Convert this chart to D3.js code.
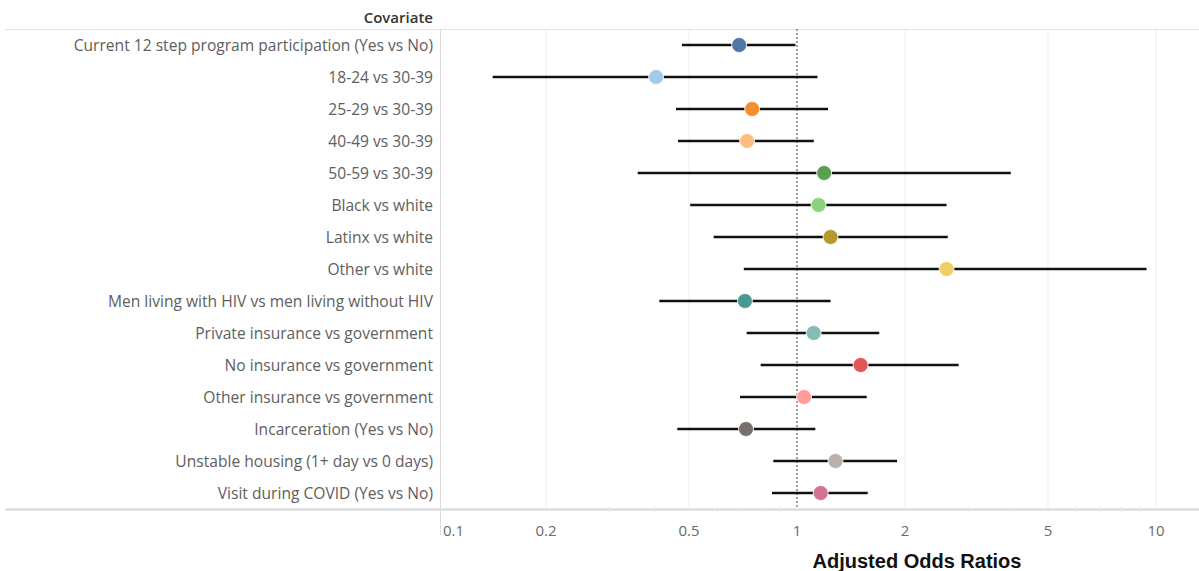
<!DOCTYPE html>
<html>
<head>
<meta charset="utf-8">
<script src="https://cdn.jsdelivr.net/npm/d3@7"></script>
<style>
  body { margin: 0; background: #fff; }
  svg { display: block; }
</style>
</head>
<body>
<div id="chart"></div>
<script>
// data
const covariates = [
  "Current 12 step program participation (Yes vs No)",
  "18-24 vs 30-39",
  "25-29 vs 30-39",
  "40-49 vs 30-39",
  "50-59 vs 30-39",
  "Black vs white",
  "Latinx vs white",
  "Other vs white",
  "Men living with HIV vs men living without HIV",
  "Private insurance vs government",
  "No insurance vs government",
  "Other insurance vs government",
  "Incarceration (Yes vs No)",
  "Unstable housing (1+ day vs 0 days)",
  "Visit during COVID (Yes vs No)"
];
const oddsRatio = [0.69, 0.405, 0.75, 0.726, 1.19, 1.148, 1.24, 2.61, 0.716, 1.113, 1.504, 1.046, 0.721, 1.28, 1.164];
const ciLower   = [0.478, 0.142, 0.46, 0.466, 0.36, 0.504, 0.586, 0.711, 0.4135, 0.724, 0.792, 0.694, 0.464, 0.859, 0.852];
const ciUpper   = [0.99, 1.14, 1.22, 1.114, 3.94, 2.61, 2.63, 9.41, 1.24, 1.695, 2.82, 1.564, 1.125, 1.90, 1.574];
const dotColors = ["#4e79a7", "#a0cbe8", "#f28e2b", "#ffbe7d", "#59a14f", "#8cd17d", "#b6992d", "#f1ce63",
                   "#499894", "#86bcb6", "#e15759", "#ff9d9a", "#79706e", "#bab0ac", "#d37295"];
const tickValues = [0.1, 0.2, 0.5, 1, 2, 5, 10];
const minorTicks = [0.3, 0.4, 0.6, 0.7, 0.8, 0.9, 3, 4, 6, 7, 8, 9];

const width = 1199, height = 571;
const plotLeft = 441, plotRight = 1199, plotTop = 29, plotBottom = 509;

const svg = d3.select("#chart").append("svg")
    .attr("width", width)
    .attr("height", height);

// log scale, 1 decade = 359px
const x = d3.scaleLog()
    .domain([0.1, 10])
    .range([438, 1156]);

const y = d3.scaleBand()
    .domain(covariates)
    .range([plotTop, plotBottom]);

const rows = covariates.map((c, i) => ({
  name: c, or: oddsRatio[i], lo: ciLower[i], hi: ciUpper[i], color: dotColors[i]
}));

// gridlines
svg.append("g")
  .selectAll("line")
  .data(tickValues.filter(d => d !== 1 && d !== 0.1))
  .join("line")
    .attr("x1", d => x(d)).attr("x2", d => x(d))
    .attr("y1", plotTop).attr("y2", plotBottom)
    .attr("stroke", "#ededed")
    .attr("stroke-width", 1);

// header line + bottom axis line
svg.append("line")
    .attr("x1", 5).attr("x2", width)
    .attr("y1", plotTop + 0.5).attr("y2", plotTop + 0.5)
    .attr("stroke", "#e3e3e3");
svg.append("line")
    .attr("x1", 5).attr("x2", width)
    .attr("y1", plotBottom + 0.5).attr("y2", plotBottom + 0.5)
    .attr("stroke", "#d6d6d6")
    .attr("stroke-width", 2);

// vertical divider
svg.append("line")
    .attr("x1", plotLeft - 0.5).attr("x2", plotLeft - 0.5)
    .attr("y1", plotTop).attr("y2", 535)
    .attr("stroke", "#dcdcdc");

// minor ticks on the axis line
svg.append("g")
  .selectAll("line")
  .data(minorTicks)
  .join("line")
    .attr("x1", d => x(d)).attr("x2", d => x(d))
    .attr("y1", plotBottom - 2).attr("y2", plotBottom + 3)
    .attr("stroke", "#e6e6e6");

// reference line at 1
svg.append("line")
    .attr("x1", x(1)).attr("x2", x(1))
    .attr("y1", plotTop).attr("y2", plotBottom)
    .attr("stroke", "#444")
    .attr("stroke-width", 1)
    .attr("stroke-dasharray", "2,2");

// tick labels
svg.append("g")
  .selectAll("text")
  .data(tickValues)
  .join("text")
    .attr("x", d => d === 0.1 ? x(d) + 5 : x(d))
    .attr("y", 536)
    .attr("text-anchor", d => d === 0.1 ? "start" : "middle")
    .attr("fill", "#6a6a6a")
    .style("font", "15px 'Open Sans', sans-serif")
    .text(d => d);

// axis title
svg.append("text")
    .attr("x", 917)
    .attr("y", 568)
    .attr("text-anchor", "middle")
    .attr("fill", "#111")
    .style("font", "bold 20px 'Liberation Sans', Arial, sans-serif")
    .text("Adjusted Odds Ratios");

// header
svg.append("text")
    .attr("x", 433)
    .attr("y", 23)
    .attr("text-anchor", "end")
    .attr("fill", "#333")
    .style("font", "600 15px 'Open Sans', sans-serif")
    .text("Covariate");

// row labels
svg.append("g")
  .selectAll("text")
  .data(rows)
  .join("text")
    .attr("x", 433)
    .attr("y", d => y(d.name) + y.bandwidth() / 2 + 0.5)
    .attr("dy", "0.35em")
    .attr("text-anchor", "end")
    .attr("fill", "#5e5e5e")
    .style("font", "15.6px 'Open Sans', sans-serif")
    .text(d => d.name);

// CI lines
svg.append("g")
  .selectAll("line")
  .data(rows)
  .join("line")
    .attr("x1", d => x(d.lo)).attr("x2", d => x(d.hi))
    .attr("y1", d => y(d.name) + y.bandwidth() / 2)
    .attr("y2", d => y(d.name) + y.bandwidth() / 2)
    .attr("stroke", "#111")
    .attr("stroke-width", 2.5);

// points
svg.append("g")
  .selectAll("circle")
  .data(rows)
  .join("circle")
    .attr("cx", d => x(d.or))
    .attr("cy", d => y(d.name) + y.bandwidth() / 2)
    .attr("r", 7.5)
    .attr("fill", d => d.color)
    .attr("stroke", "#fff")
    .attr("stroke-width", 0.8);
</script>
</body>
</html>
